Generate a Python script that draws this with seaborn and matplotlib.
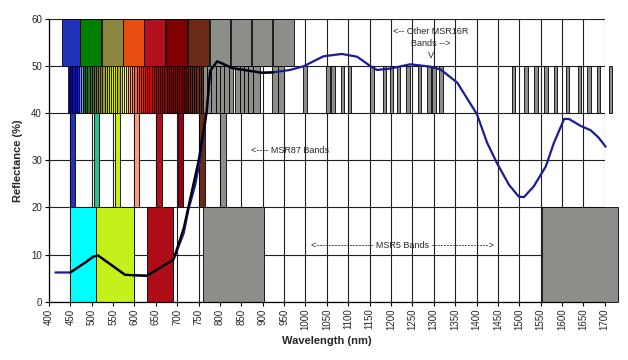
import matplotlib
matplotlib.use("Agg")
import matplotlib.pyplot as plt
import seaborn as sns
import pandas as pd

# ---------------- data ----------------
# reflectance spectrum (blue) and band-averaged curve (black)
spec_wl = [415, 450, 488, 504, 515, 578, 629, 691, 715, 726, 742, 755, 769, 777, 793, 805,
           828, 898, 925, 964, 996, 1042, 1085, 1121, 1152, 1167, 1199, 1245, 1292, 1316,
           1355, 1401, 1425, 1448, 1476, 1499, 1511, 1534, 1562, 1581, 1605, 1616, 1644,
           1667, 1686, 1702]
spec_rf = [6.2, 6.2, 8.5, 9.6, 9.8, 5.7, 5.5, 8.9, 14.5, 19.5, 24.8, 31.0, 40.5, 49.0, 51.0,
           50.6, 49.6, 48.6, 48.7, 49.2, 50.0, 52.1, 52.6, 52.0, 50.0, 49.2, 49.5, 50.4, 49.9,
           49.3, 46.5, 39.8, 33.7, 29.4, 24.8, 22.3, 22.2, 24.5, 28.7, 33.7, 38.8, 38.8, 37.3,
           36.4, 34.8, 32.9]
avg_wl = [450, 488, 504, 515, 578, 629, 691, 715, 750, 769, 777, 793, 805, 828, 898, 925]
avg_rf = [6.2, 8.5, 9.6, 9.8, 5.7, 5.5, 8.9, 15.6, 30.0, 40.5, 49.0, 51.0, 50.6, 49.6, 48.6, 48.7]

# top row wide blocks (50-60 %)
top_start = [431, 473, 523, 573, 623, 673, 724, 776, 825, 874, 923]
top_width = [42, 49, 49, 49, 49, 49, 50, 48, 48, 48, 49]
top_color = ['#1f33bb', '#008000', '#8c8640', '#e84e12', '#b2101c', '#800000',
             '#6b2a16', '#8c8e8a', '#8c8e8a', '#8c8e8a', '#8c8e8a']

# MSR16R bands (40-50 %): coloured visible stripes
vis_start = [445, 450, 455, 460, 465, 470, 475, 480, 485, 490, 495, 500, 505, 510, 515, 520,
             525, 530, 535, 540, 545, 550, 555, 560, 565, 570, 575, 580, 585, 590, 595, 600,
             605, 610, 615, 620, 625, 630, 635, 640, 645, 650, 655, 660, 665, 670, 675, 680,
             685, 690, 695, 700, 705, 710, 715, 720, 725, 730, 735, 740, 745, 750, 755]
vis_color = ['#101080', '#0000cc', '#0a0ae0', '#0000ff', '#1a1aff', '#8080ff', '#5aaee0',
             '#1f5f2a', '#206820', '#2a6e1e', '#3a7020', '#4d6f22', '#607528', '#75782e',
             '#858035', '#908a3c', '#9a9a30', '#a8c020', '#b4d818', '#c0e800', '#ccf000',
             '#d4f400', '#c8e000', '#b0b020', '#d8e000', '#ffff00', '#ffff30', '#f8e800',
             '#ffb080', '#ff9a7a', '#ff8060', '#ff6040', '#ff4830', '#ff3020', '#ff2010',
             '#ff1000', '#ff0000', '#f00000', '#e00000', '#d00008', '#c0000c', '#b8000e',
             '#b00010', '#a80010', '#a00010', '#980008', '#900000', '#8a0000', '#880000',
             '#840000', '#800000', '#800000', '#7c0000', '#7a0000', '#780000', '#760000',
             '#7a1a0a', '#6b2a16', '#6b2a16', '#6b2a16', '#6b2a16', '#6b2a16', '#6b2a16']
vis_width = 5
# MSR16R bands (40-50 %): grey NIR/SWIR bands
nir_start = [760, 770, 780, 790, 800, 810, 820, 836, 846, 856, 866, 878, 921, 935,
             995, 1049, 1059, 1083, 1099, 1152, 1181, 1197, 1214, 1235, 1262, 1285, 1297,
             1313, 1483, 1512, 1535, 1559, 1581, 1609, 1637, 1659, 1682, 1710]
nir_width = [10, 10, 10, 10, 10, 10, 10, 10, 10, 10, 12, 16, 14, 15,
             9, 8, 9, 8, 8, 8, 8, 8, 8, 9, 8, 8, 8,
             8, 8, 8, 8, 8, 8, 8, 8, 8, 8, 8]

# MSR87 bands (20-40 %)
m87_start = [449, 505, 554, 600, 651, 701, 750, 800]
m87_width = [12, 12, 12, 11, 13, 12, 15, 14]
m87_color = ['#1f33bb', '#2ec08a', '#c8f000', '#ff9a7a', '#b2101c', '#990012', '#6b2a16', '#8c8e8a']

# MSR5 bands (0-20 %)
m5_start = [450, 511, 630, 760, 1553]
m5_width = [61, 89, 61, 142, 177]
m5_color = ['#00ffff', '#c4f01c', '#b00c18', '#8c8e8a', '#8c8e8a']

x_ticks = list(range(400, 1701, 50))
y_ticks = [0, 10, 20, 30, 40, 50, 60]
GREY = '#8c8e8a'

# ---------------- style ----------------
sns.set_theme(style="white")
plt.rcParams['font.family'] = ['Liberation Sans', 'DejaVu Sans']

fig = plt.figure(figsize=(6.28, 3.60), dpi=100)
ax = fig.add_axes([0.078, 0.162, 0.885, 0.785])

ax.set_xlim(400, 1700)
ax.set_ylim(0, 60)
ax.set_axisbelow(True)
ax.grid(True, color='#202020', linewidth=0.8)

def bars(starts, widths, bottom, height, colors, lw=0.6):
    ax.bar(starts, [height] * len(starts), width=widths, bottom=bottom, align='edge',
           color=colors, edgecolor='black', linewidth=lw, zorder=2, clip_on=False)

bars(top_start, top_width, 50, 10, top_color)
bars(vis_start, [vis_width] * len(vis_start), 40, 10, vis_color, lw=0.55)
bars(nir_start, nir_width, 40, 10, [GREY] * len(nir_start), lw=0.6)
bars(m87_start, m87_width, 20, 20, m87_color)
bars(m5_start, m5_width, 0, 20, m5_color)

spec = pd.DataFrame({'wl': spec_wl, 'rf': spec_rf})
avg = pd.DataFrame({'wl': avg_wl, 'rf': avg_rf})
sns.lineplot(data=spec, x='wl', y='rf', sort=False, color='#1c1c96', linewidth=1.6,
             ax=ax, zorder=4, clip_on=False)
sns.lineplot(data=avg, x='wl', y='rf', sort=False, color='black', linewidth=1.6,
             ax=ax, zorder=5)

# annotations
ax.text(1293, 58.4, "<-- Other MSR16R\nBands -->\nV", ha='center', va='top', fontsize=6.5,
        linespacing=1.45, zorder=6)
ax.text(872, 32, "<---- MSR87 Bands", ha='left', va='center', fontsize=6.5, zorder=6)
ax.text(1227, 12, "<" + "-" * 19 + " MSR5 Bands " + "-" * 19 + ">", ha='center',
        va='center', fontsize=6.5, zorder=6)

ax.set_xticks(x_ticks)
ax.set_xticklabels([str(v) for v in x_ticks], rotation=90, fontsize=7)
ax.set_yticks(y_ticks)
ax.set_yticklabels([str(v) for v in y_ticks], fontsize=7)
ax.tick_params(axis='both', which='major', length=3, width=0.8, color='black',
               direction='out', pad=2, left=True, bottom=True)
for side in ['top', 'right']:
    ax.spines[side].set_visible(False)
for side in ['left', 'bottom']:
    ax.spines[side].set_color('black')
    ax.spines[side].set_linewidth(0.9)

ax.set_xlabel("Wavelength (nm)", fontsize=8, fontweight='bold', labelpad=4)
ax.set_ylabel("Reflectance (%)", fontsize=8, fontweight='bold', labelpad=6)

fig.savefig("out.png", dpi=100)
